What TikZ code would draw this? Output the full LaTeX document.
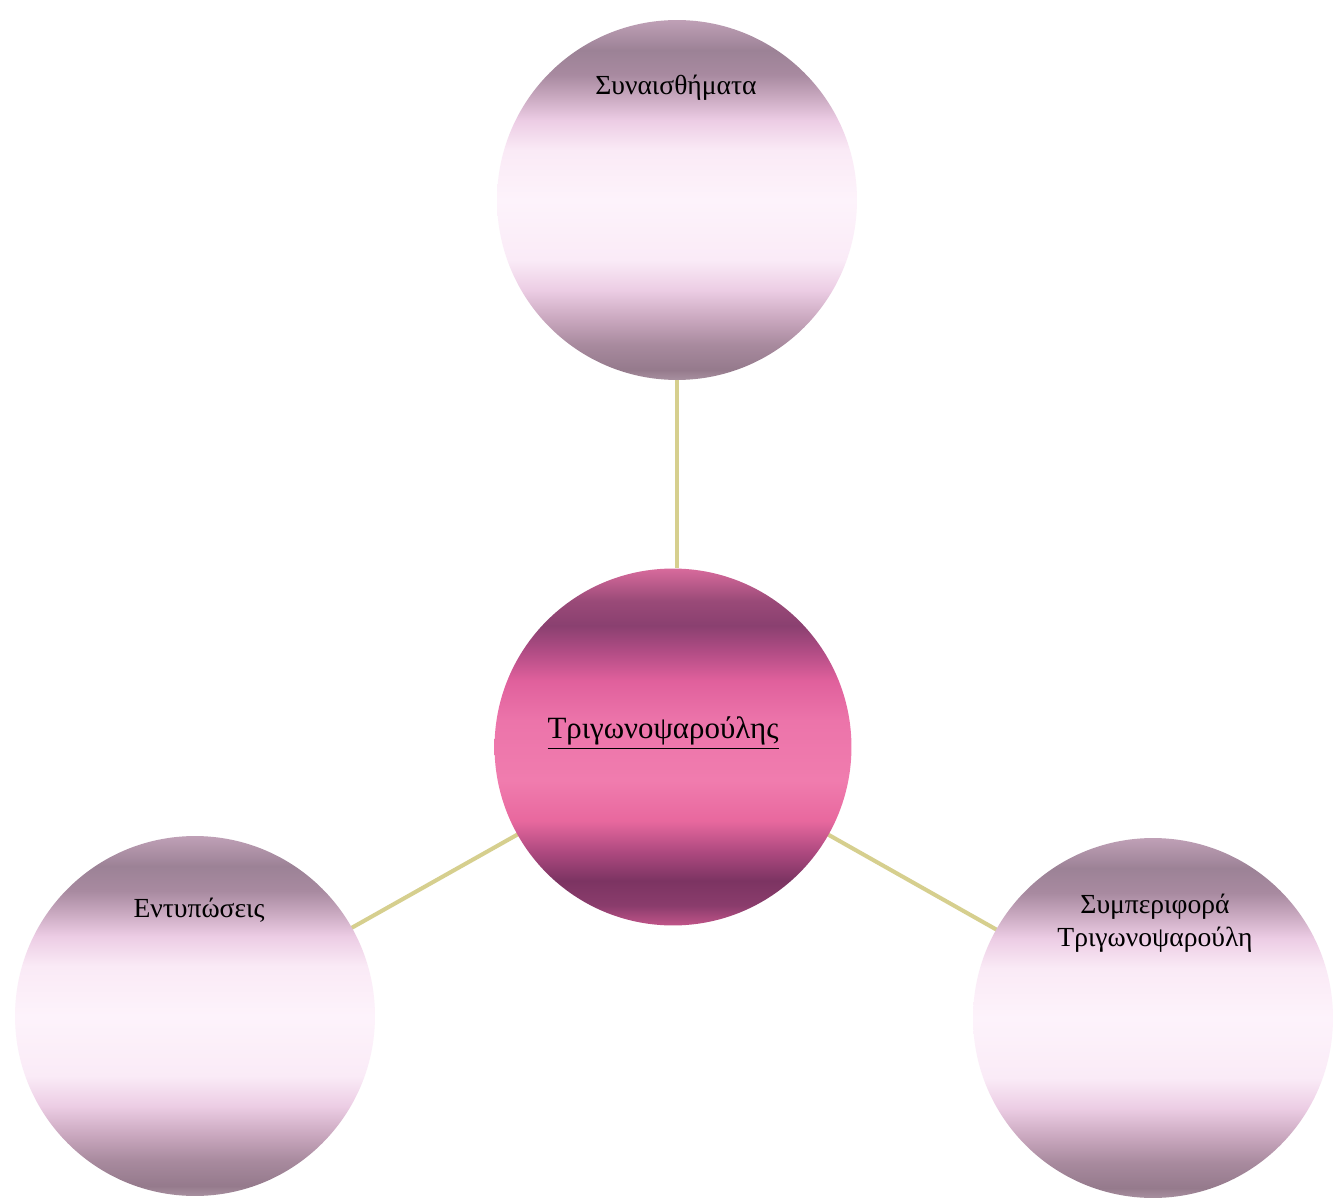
\documentclass[tikz,border=0pt]{standalone}
\usepackage{fontspec}
\setmainfont{Liberation Serif}
\definecolor{linkcol}{HTML}{D6CF8E}
\definecolor{la0}{RGB}{168,144,160}
\definecolor{la1}{RGB}{149,122,140}
\definecolor{la2}{RGB}{168,138,158}
\definecolor{la3}{RGB}{200,166,189}
\definecolor{la4}{RGB}{236,205,228}
\definecolor{la5}{RGB}{250,235,247}
\definecolor{la6}{RGB}{253,243,251}
\definecolor{la7}{RGB}{250,234,246}
\definecolor{la8}{RGB}{236,204,228}
\definecolor{la9}{RGB}{198,166,189}
\definecolor{la10}{RGB}{168,138,160}
\definecolor{la11}{RGB}{156,130,150}
\definecolor{la12}{RGB}{191,160,182}
\definecolor{pa0}{RGB}{192,84,136}
\definecolor{pa1}{RGB}{138,60,108}
\definecolor{pa2}{RGB}{124,52,98}
\definecolor{pa3}{RGB}{176,74,128}
\definecolor{pa4}{RGB}{232,104,158}
\definecolor{pa5}{RGB}{240,124,174}
\definecolor{pa6}{RGB}{236,116,170}
\definecolor{pa7}{RGB}{224,96,156}
\definecolor{pa8}{RGB}{176,76,132}
\definecolor{pa9}{RGB}{138,64,112}
\definecolor{pa10}{RGB}{154,74,120}
\definecolor{pa11}{RGB}{216,106,156}
\pgfdeclareverticalshading{lightball}{100bp}{%
color(0bp)=(la0); color(25bp)=(la0); color(26.4bp)=(la1); color(29.9bp)=(la2);
color(33.3bp)=(la3); color(37.5bp)=(la4); color(41.7bp)=(la5); color(50bp)=(la6);
color(56.9bp)=(la7); color(61.1bp)=(la8); color(64.6bp)=(la9); color(67.4bp)=(la10);
color(70.8bp)=(la11); color(75bp)=(la12); color(100bp)=(la12)}
\pgfdeclareverticalshading{pinkball}{100bp}{%
color(0bp)=(pa0); color(25bp)=(pa0); color(27.8bp)=(pa1); color(31.3bp)=(pa2);
color(35.5bp)=(pa3); color(39.7bp)=(pa4); color(45.3bp)=(pa5); color(53.7bp)=(pa6);
color(59.3bp)=(pa7); color(63.5bp)=(pa8); color(67bp)=(pa9); color(70.5bp)=(pa10);
color(75bp)=(pa11); color(100bp)=(pa11)}
\tikzset{
  ball/.style={circle, minimum size=7.2cm, inner sep=0pt, shading=lightball},
  hubball/.style={circle, minimum size=7.14cm, inner sep=0pt, shading=pinkball},
  lbl/.style={font=\fontsize{15.7}{18.5}\selectfont, text=black, align=center, inner sep=0pt},
  hublbl/.style={font=\fontsize{17.6}{20}\selectfont, text=black, align=center, inner sep=0pt},
  link/.style={draw=linkcol, line width=2.3pt}
}
\begin{document}
\begin{tikzpicture}[x=0.02cm, y=-0.02cm]
\fill[white] (0,0) rectangle (1339,1199);
\clip (0,0) rectangle (1339,1199);
% node positions (drawn after connectors)
\path (677,200) node[circle, minimum size=7.2cm] (top) {}
      (673,747) node[circle, minimum size=7.14cm] (hub) {}
      (195,1016) node[circle, minimum size=7.2cm] (left) {}
      (1153,1018) node[circle, minimum size=7.2cm] (right) {};
% connectors
\path[link] (top.south) -- (top.south |- hub.north);
\path[link] (hub.center) -- (left.center);
\path[link] (hub.center) -- (right.center);
% circles on top of connectors
\node[ball] (topc) at (top) {};
\node[hubball] (hubc) at (hub) {};
\node[ball] (leftc) at (left) {};
\node[ball] (rightc) at (right) {};
% labels
\node[lbl] (ttop) at (676,88) {Συναισθήματα};
\node[hublbl] (thub) at (663,733) {\underline{Τριγωνοψαρούλης}};
\node[lbl] (tleft) at (199,910) {Εντυπώσεις};
\node[lbl] (tright) at (1155,923) {Συμπεριφορά\\Τριγωνοψαρούλη};
\end{tikzpicture}
\end{document}
